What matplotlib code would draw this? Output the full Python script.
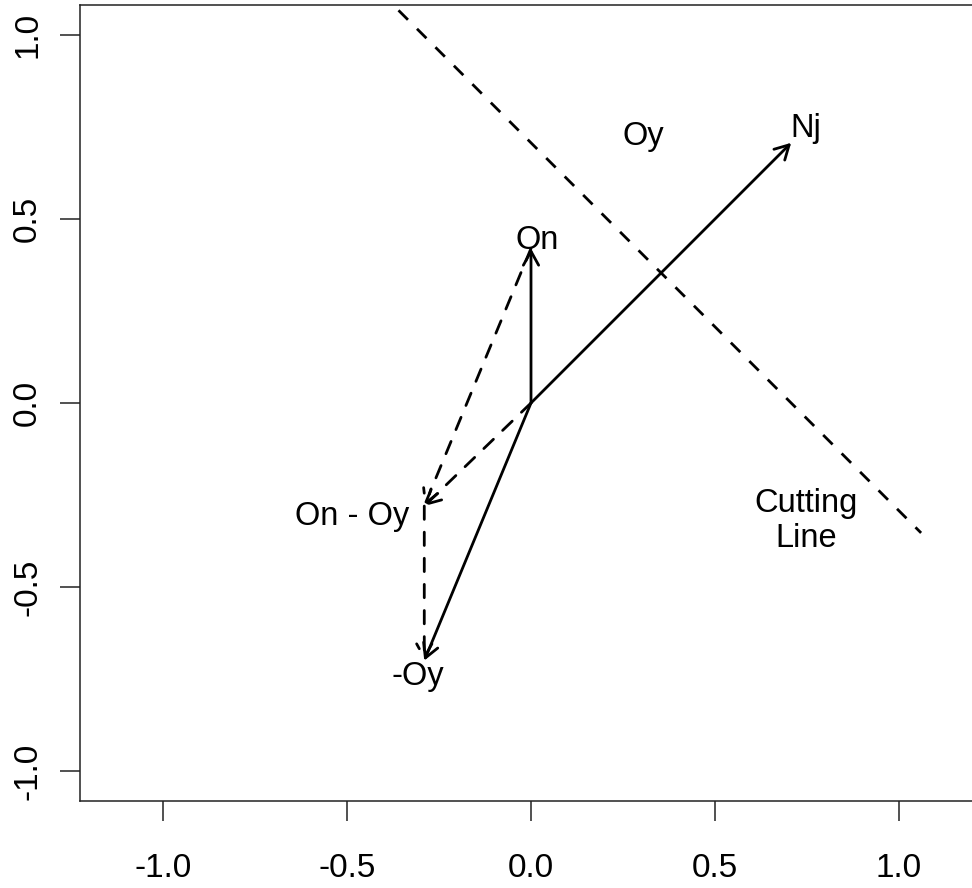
import matplotlib
matplotlib.use("Agg")
import matplotlib.pyplot as plt
from matplotlib.patches import FancyArrowPatch
import numpy as np

plt.rcParams['font.family'] = ['Liberation Sans', 'DejaVu Sans']
plt.rcParams['axes.unicode_minus'] = False

# ---- data ----
origin = np.array([0.0, 0.0])
On = np.array([0.0, 0.42])
Oy = np.array([0.29, 0.70])
Nj = np.array([0.707, 0.707])
neg_Oy = -Oy
On_minus_Oy = On - Oy
cut_x = np.array([-0.36, 1.06])
# cutting line: points p with p . Nj = |Nj|^2 / 2
cut_y = (Nj @ Nj / 2 - Nj[0] * cut_x) / Nj[1]

tick_values = [-1.0, -0.5, 0.0, 0.5, 1.0]
tick_labels = ["-1.0", "-0.5", "0.0", "0.5", "1.0"]

label_texts = ["On", "Nj", "Oy", "On - Oy", "-Oy", "Cutting\nLine"]
label_x = [0.018, 0.747, 0.304, -0.486, -0.307, 0.747]
label_y = [0.418, 0.723, 0.701, -0.331, -0.766, -0.391]

solid_arrows = [(origin, On), (origin, Nj), (origin, neg_Oy)]
dashed_arrows = [(origin, On_minus_Oy), (On, On_minus_Oy), (On_minus_Oy, neg_Oy)]

# ---- figure ----
W, H = 972, 888
fig = plt.figure(figsize=(W / 100, H / 100), dpi=100)
L, R, T, B = 80, 982, 5, 801
ax = fig.add_axes([L / W, 1 - B / H, (R - L) / W, (B - T) / H])
ax.set_xlim(-1.2255, 1.2255)
ax.set_ylim(-1.0815, 1.0815)

for s in ax.spines.values():
    s.set_linewidth(1.1)
    s.set_color('#222222')

ax.set_xticks(tick_values)
ax.set_xticklabels(tick_labels)
ax.set_yticks(tick_values)
ax.set_yticklabels(tick_labels, rotation=90, va='center')
ax.tick_params(axis='both', length=14.5, width=1.1, labelsize=24, color='#222222')
ax.tick_params(axis='x', pad=23)
ax.tick_params(axis='y', pad=12)

lw = 2.0
dash = (0, (4.8, 4.6))

ax.plot(cut_x, cut_y, color='black', lw=lw, linestyle=dash)

style = "->,head_length=1.0,head_width=0.55"
for a, b in solid_arrows:
    ax.add_patch(FancyArrowPatch(tuple(a), tuple(b), arrowstyle=style,
                                 mutation_scale=10, lw=lw, color='black',
                                 shrinkA=0, shrinkB=0))
for a, b in dashed_arrows:
    ax.add_patch(FancyArrowPatch(tuple(a), tuple(b), arrowstyle=style,
                                 mutation_scale=10, lw=lw, color='black',
                                 linestyle=dash, shrinkA=0, shrinkB=0))

for t, x, y in zip(label_texts, label_x, label_y):
    ax.text(x, y, t, fontsize=23.5, ha='center', va='baseline',
            multialignment='center', linespacing=1.15)

fig.savefig("out.png", dpi=100)
